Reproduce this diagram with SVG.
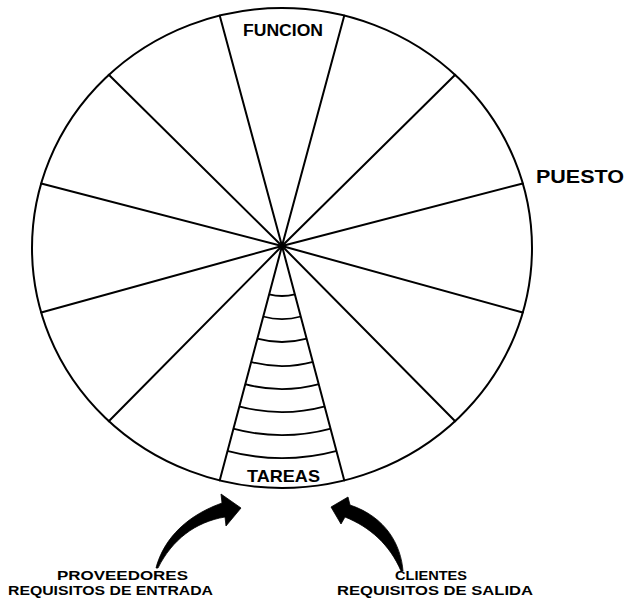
<svg xmlns="http://www.w3.org/2000/svg" width="627" height="608" viewBox="0 0 627 608">
<style>
.ln{stroke:#000;stroke-width:2;fill:none;stroke-linecap:round}
.arc{stroke:#000;stroke-width:1.8;fill:none}
.t{font-family:"Liberation Sans",Arial,sans-serif;font-weight:bold;fill:#000}
.arr{fill:#000;stroke:#000;stroke-width:0.8;stroke-linejoin:round}
</style>
<rect width="627" height="608" fill="#fff"/>
<g id="wheel">
<ellipse cx="282" cy="248" rx="250" ry="240" class="ln"/>
</g>
<g id="spokes">
<line x1="282" y1="246" x2="344.3" y2="15.6" class="ln"/>
<line x1="282" y1="246" x2="455.2" y2="74.8" class="ln"/>
<line x1="282" y1="246" x2="522.8" y2="183.5" class="ln"/>
<line x1="282" y1="246" x2="522.8" y2="312.5" class="ln"/>
<line x1="282" y1="246" x2="455.2" y2="421.2" class="ln"/>
<line x1="282" y1="246" x2="344.3" y2="480.4" class="ln"/>
<line x1="282" y1="246" x2="219.7" y2="15.6" class="ln"/>
<line x1="282" y1="246" x2="108.8" y2="74.8" class="ln"/>
<line x1="282" y1="246" x2="41.2" y2="183.5" class="ln"/>
<line x1="282" y1="246" x2="41.2" y2="312.5" class="ln"/>
<line x1="282" y1="246" x2="108.8" y2="421.2" class="ln"/>
<line x1="282" y1="246" x2="219.7" y2="480.4" class="ln"/>
</g>
<g id="tareas-steps">
<path class="arc" d="M269.1 294.3 A50 50 0 0 0 294.9 294.3"/>
<path class="arc" d="M263.1 316.5 A73 73 0 0 0 300.9 316.5"/>
<path class="arc" d="M257.2 338.7 A96 96 0 0 0 306.8 338.7"/>
<path class="arc" d="M250.9 361.9 A120 120 0 0 0 313.1 361.9"/>
<path class="arc" d="M245.0 384.1 A143 143 0 0 0 319.0 384.1"/>
<path class="arc" d="M239.0 406.3 A166 166 0 0 0 325.0 406.3"/>
<path class="arc" d="M233.1 428.6 A189 189 0 0 0 330.9 428.6"/>
<path class="arc" d="M227.1 450.8 A212 212 0 0 0 336.9 450.8"/>
</g>
<g id="labels">
<text class="t" x="283" y="36" font-size="16" text-anchor="middle" textLength="80" lengthAdjust="spacingAndGlyphs">FUNCION</text>
<text class="t" x="283.5" y="482" font-size="17" text-anchor="middle" textLength="73" lengthAdjust="spacingAndGlyphs">TAREAS</text>
<text class="t" x="536" y="183" font-size="19" textLength="88" lengthAdjust="spacingAndGlyphs">PUESTO</text>
</g>
<g id="connectors">
<path id="arrow-in" class="arr" d="M156 568 C162 545 180 518 222 503 L221 494 L241 508 L226 526 L225 517 C195 522 172 540 158 568 Z"/>
<path id="arrow-out" class="arr" d="M403 571 C401 545 386 517 350 505 L348 497 L331 507 L341 524 L345 517 C370 527 390 545 401 571 Z"/>
</g>
<g id="proveedores">
<text class="t" x="122.5" y="580" font-size="13.5" text-anchor="middle" textLength="131" lengthAdjust="spacingAndGlyphs">PROVEEDORES</text>
<text class="t" x="110.5" y="595" font-size="13.5" text-anchor="middle" textLength="205" lengthAdjust="spacingAndGlyphs">REQUISITOS DE ENTRADA</text>
</g>
<g id="clientes">
<text class="t" x="431" y="580" font-size="13.5" text-anchor="middle" textLength="72" lengthAdjust="spacingAndGlyphs">CLIENTES</text>
<text class="t" x="435" y="595" font-size="13.5" text-anchor="middle" textLength="196" lengthAdjust="spacingAndGlyphs">REQUISITOS DE SALIDA</text>
</g>
</svg>
